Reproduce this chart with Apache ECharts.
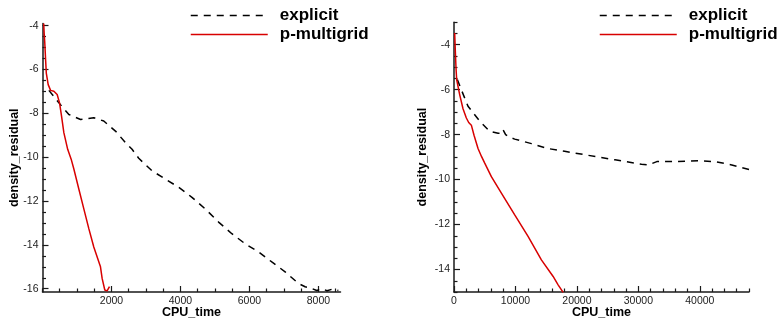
<!DOCTYPE html>
<html>
<head>
<meta charset="utf-8">
<title>density_residual vs CPU_time</title>
<script src="https://cdn.jsdelivr.net/npm/echarts@6/dist/echarts.min.js"></script>
<style>
  html, body { margin: 0; padding: 0; background: #fff; }
  #chart { width: 779px; height: 324px; }
</style>
</head>
<body>
<div id="chart"></div>
<script>
// left panel
const leftExplicitTime = [185, 475, 764, 1103, 1487, 1777, 2115, 2405, 2597, 2790, 3175, 3562, 3947, 4333, 4720, 5105, 5490, 5877, 6262, 6648, 7034, 7420, 7614, 7805, 7950, 8100, 8250, 8400, 8578];
const leftExplicitRes = [-6.95, -7.52, -8.05, -8.28, -8.2, -8.35, -8.81, -9.33, -9.64, -10.05, -10.62, -11.0, -11.37, -11.83, -12.36, -12.96, -13.49, -13.95, -14.32, -14.78, -15.23, -15.76, -15.91, -15.99, -16.08, -16.0, -16.09, -16.02, -16.08];
const leftMgTime = [35, 50, 65, 90, 110, 165, 234, 330, 425, 494, 552, 619, 730, 831, 909, 1053, 1198, 1343, 1487, 1681, 1729, 1806, 1873, 1942];
const leftMgRes = [-3.9, -4.4, -4.75, -5.56, -6.16, -6.69, -6.95, -6.99, -7.14, -7.52, -8.13, -8.88, -9.64, -10.09, -10.54, -11.45, -12.36, -13.26, -14.1, -15.0, -15.53, -16.06, -16.1, -15.91];

// right panel
const rightExplicitTime = [540, 1190, 2280, 4180, 5810, 7170, 7700, 7980, 8400, 8800, 9880, 12600, 15300, 18000, 21800, 26200, 30500, 31600, 33000, 36000, 39700, 42500, 45200, 48000];
const rightExplicitRes = [-5.55, -6.0, -6.74, -7.4, -7.85, -7.94, -7.93, -7.78, -8.0, -8.08, -8.2, -8.4, -8.62, -8.74, -8.92, -9.12, -9.32, -9.35, -9.2, -9.2, -9.16, -9.2, -9.35, -9.55];
const rightMgTime = [110, 217, 326, 434, 652, 923, 1466, 2010, 2390, 2823, 3258, 3910, 4452, 5000, 6080, 7710, 9880, 12050, 14220, 16130, 16940, 17760];
const rightMgRes = [-3.48, -4.29, -5.04, -5.55, -5.63, -6.22, -6.85, -7.26, -7.46, -7.58, -8.03, -8.62, -8.96, -9.27, -9.87, -10.6, -11.57, -12.53, -13.57, -14.31, -14.68, -15.02];

const seriesNames = ["explicit", "p-multigrid"];
const leftXTicks = [2000, 4000, 6000, 8000];
const leftYTicks = [-16, -14, -12, -10, -8, -6, -4];
const rightXTicks = [0, 10000, 20000, 30000, 40000];
const rightYTicks = [-14, -12, -10, -8, -6, -4];

const FONT = "'Liberation Sans', Arial, Helvetica, sans-serif";
const AXIS_COLOR = "#1a1a1a";
const RED = "#d80000";

// small ticks between the labelled ones
const minorTicks = (from, to, step, majors) => {
  const out = [];
  for (let v = from; v <= to + 1e-9; v += step) {
    const r = Math.round(v * 100) / 100;
    if (!majors.includes(r)) out.push(r);
  }
  return out;
};
const pairs = (xs, ys) => xs.map((x, i) => [x, ys[i]]);

const mainAxis = (gridIndex, position, min, max, ticks, name, nameGap) => ({
  type: "value",
  gridIndex,
  position,
  min,
  max,
  name,
  nameLocation: "middle",
  nameGap,
  nameMoveOverlap: false,
  nameTextStyle: { fontFamily: FONT, fontWeight: "bold", fontSize: 12.5, color: "#000" },
  axisLine: { show: true, onZero: false, lineStyle: { color: AXIS_COLOR, width: 1.5 } },
  axisTick: { show: true, inside: true, length: 6, customValues: ticks, lineStyle: { color: AXIS_COLOR, width: 1.2 } },
  axisLabel: {
    customValues: ticks,
    margin: 4,
    color: "#222",
    fontSize: 10.5,
    fontFamily: FONT,
    formatter: (v) => String(v),
  },
  splitLine: { show: false },
});

const minorAxis = (gridIndex, position, min, max, ticks) => ({
  type: "value",
  gridIndex,
  position,
  min,
  max,
  axisLine: { show: false, onZero: false },
  axisTick: { show: true, inside: true, length: 3.5, customValues: ticks, lineStyle: { color: AXIS_COLOR, width: 1.2 } },
  axisLabel: { show: false },
  splitLine: { show: false },
});

const lineSeries = (name, x, y, xi, color, dashed) => ({
  name,
  type: "line",
  xAxisIndex: xi,
  yAxisIndex: xi,
  data: pairs(x, y),
  symbol: "none",
  clip: false,
  lineStyle: { color, width: 1.5, type: dashed ? [7, 6] : "solid" },
  itemStyle: { color },
});

const legendFor = (left) => ({
  left,
  top: 2,
  orient: "vertical",
  itemWidth: 77,
  itemHeight: 14,
  itemGap: 2,
  selectedMode: false,
  data: seriesNames,
  itemStyle: { opacity: 0 },
  lineStyle: { width: 1.5 },
  textStyle: { fontFamily: FONT, fontWeight: "bold", fontSize: 17, color: "#000", padding: [0, 0, 0, 7] },
});

const chart = echarts.init(document.getElementById("chart"));
chart.setOption({
  animation: false,
  backgroundColor: "#fff",
  grid: [
    { left: 42.5, top: 23.5, width: 298, height: 270 },
    { left: 454, top: 22.2, width: 295, height: 270 },
  ],
  legend: [legendFor(185), legendFor(594)],
  xAxis: [
    mainAxis(0, "bottom", 0, 8640, leftXTicks, "CPU_time", 14),
    minorAxis(0, "bottom", 0, 8640, minorTicks(0, 8640, 500, leftXTicks)),
    mainAxis(1, "bottom", 0, 48000, rightXTicks, "CPU_time", 14),
    minorAxis(1, "bottom", 0, 48000, minorTicks(0, 48000, 2000, rightXTicks)),
  ],
  yAxis: [
    mainAxis(0, "left", -16.15, -3.9, leftYTicks, "density_residual", 21.5),
    minorAxis(0, "left", -16.15, -3.9, minorTicks(-16, -4, 0.5, leftYTicks)),
    mainAxis(1, "left", -15, -3, rightYTicks, "density_residual", 25),
    minorAxis(1, "left", -15, -3, minorTicks(-15, -3, 0.5, rightYTicks)),
  ],
  series: [
    lineSeries("explicit", leftExplicitTime, leftExplicitRes, 0, "#000", true),
    lineSeries("p-multigrid", leftMgTime, leftMgRes, 0, RED, false),
    lineSeries("explicit", rightExplicitTime, rightExplicitRes, 2, "#000", true),
    lineSeries("p-multigrid", rightMgTime, rightMgRes, 2, RED, false),
  ],
});
</script>
</body>
</html>
